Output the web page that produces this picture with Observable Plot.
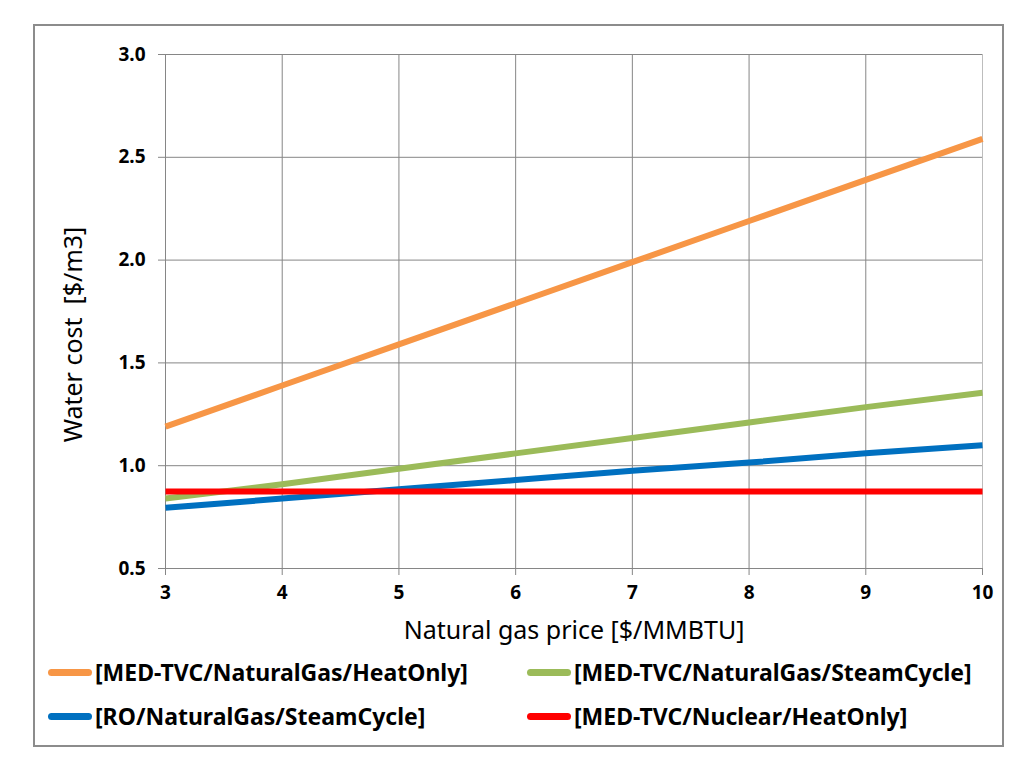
<!DOCTYPE html>
<html>
<head>
<meta charset="utf-8">
<script src="https://cdn.jsdelivr.net/npm/d3@7"></script>
<script src="https://cdn.jsdelivr.net/npm/@observablehq/plot@0.6"></script>
<style>
  html, body { margin: 0; padding: 0; background: #fff; }
  #wrap { position: relative; width: 1035px; height: 761px; font-family: "Noto Sans", "Open Sans", sans-serif; }
  #frame { position: absolute; left: 33px; top: 24px; width: 971px; height: 723px; border: 2px solid #8c8c8c; box-sizing: border-box; }
  #chart { position: absolute; left: 0; top: 0; }
  .leg { position: absolute; display: flex; align-items: center; font-size: 23px; font-weight: bold; color: #000; white-space: nowrap; }
  .sw { display: inline-block; width: 44px; height: 7px; border-radius: 4px; margin-right: 3px; }
</style>
</head>
<body>
<div id="wrap">
  <div id="frame"></div>
  <div id="chart"></div>
  <div id="legend"></div>
</div>
<script>
// Data
const gasPrice = [3, 4, 5, 6, 7, 8, 9, 10];
const seriesNames = [
  "[MED-TVC/NaturalGas/HeatOnly]",
  "[MED-TVC/NaturalGas/SteamCycle]",
  "[RO/NaturalGas/SteamCycle]",
  "[MED-TVC/Nuclear/HeatOnly]"
];
const medTvcGasHeatOnly   = [1.19, 1.39, 1.59, 1.79, 1.99, 2.19, 2.39, 2.59];
const medTvcGasSteamCycle = [0.84, 0.91, 0.985, 1.06, 1.135, 1.21, 1.285, 1.355];
const roGasSteamCycle     = [0.795, 0.84, 0.885, 0.93, 0.975, 1.015, 1.06, 1.10];
const medTvcNuclearHeat   = [0.875, 0.875, 0.875, 0.875, 0.875, 0.875, 0.875, 0.875];
const seriesColors = ["#F79646", "#9BBB59", "#0070C0", "#FF0000"];
const xTicks = [3, 4, 5, 6, 7, 8, 9, 10];
const yTicks = [0.5, 1.0, 1.5, 2.0, 2.5, 3.0];
const xTitle = "Natural gas price [$/MMBTU]";
const yTitle = "Water cost  [$/m3]";

const allSeries = [medTvcGasHeatOnly, medTvcGasSteamCycle, roGasSteamCycle, medTvcNuclearHeat];
const rows = allSeries.flatMap((vals, i) => gasPrice.map((x, j) => ({series: seriesNames[i], x, y: vals[j]})));

const fontFamily = '"Noto Sans", "Open Sans", sans-serif';

const plot = Plot.plot({
  width: 1035,
  height: 650,
  marginLeft: 165,
  marginRight: 53,
  marginTop: 54,
  marginBottom: 82,
  style: {fontFamily, background: "transparent", overflow: "visible"},
  x: {domain: [3, 10]},
  y: {domain: [0.5, 3.0]},
  color: {domain: seriesNames, range: seriesColors},
  marks: [
    Plot.gridX(xTicks.slice(0, -1), {stroke: "#868686", strokeOpacity: 1, strokeWidth: 1}),
    Plot.gridX([xTicks[xTicks.length - 1]], {stroke: "#bdbdbd", strokeOpacity: 1, strokeWidth: 1}),
    Plot.gridY(yTicks, {stroke: "#868686", strokeOpacity: 1, strokeWidth: 1}),
    Plot.axisX(xTicks, {
      label: null, tickSize: 7, tickPadding: 10, stroke: "#868686",
      fontSize: 19, fontWeight: "bold", fill: "#000", tickFormat: d => String(d)
    }),
    Plot.axisY(yTicks, {
      label: null, tickSize: 7, tickPadding: 13, stroke: "#868686",
      fontSize: 19, fontWeight: "bold", fill: "#000", tickFormat: d => d.toFixed(1)
    }),
    Plot.line(rows, {x: "x", y: "y", z: "series", stroke: "series", strokeWidth: 6, strokeLinecap: "butt"}),
    Plot.text([xTitle], {text: d => d, frameAnchor: "bottom", dy: 62, fontSize: 25, fill: "#000", lineAnchor: "middle", textAnchor: "middle"}),
    Plot.text([yTitle], {text: d => d, frameAnchor: "left", dx: -92, dy: 23, rotate: -90, fontSize: 25, fill: "#000", lineAnchor: "middle", textAnchor: "middle"})
  ]
});
document.getElementById("chart").appendChild(plot);

// Legend (HTML, below the SVG area)
const legendPos = [
  {left: 48, top: 672}, {left: 527, top: 672},
  {left: 48, top: 716}, {left: 527, top: 716}
];
const legend = document.getElementById("legend");
seriesNames.forEach((name, i) => {
  const item = document.createElement("div");
  item.className = "leg";
  item.style.left = legendPos[i].left + "px";
  item.style.top = (legendPos[i].top - 16) + "px";
  item.style.height = "32px";
  const sw = document.createElement("span");
  sw.className = "sw";
  sw.style.background = seriesColors[i];
  const t = document.createElement("span");
  t.textContent = name;
  item.appendChild(sw);
  item.appendChild(t);
  legend.appendChild(item);
});
</script>
</body>
</html>
